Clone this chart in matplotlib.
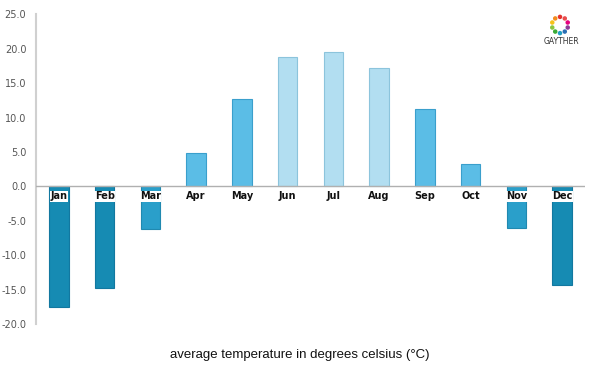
import matplotlib
matplotlib.use("Agg")
import matplotlib.pyplot as plt
import numpy as np

months = ["Jan", "Feb", "Mar", "Apr", "May", "Jun", "Jul", "Aug", "Sep", "Oct", "Nov", "Dec"]
temps = [-17.5, -14.7, -6.2, 4.8, 12.7, 18.8, 19.5, 17.2, 11.2, 3.2, -6.0, -14.3]
colors = ["#168bb3", "#168bb3", "#2a9fca", "#5bbde6", "#5bbde6", "#b2def1",
          "#b2def1", "#b2def1", "#5bbde6", "#5bbde6", "#2a9fca", "#168bb3"]
edges = ["#1278a0", "#1278a0", "#2089b0", "#3a9fcc", "#3a9fcc", "#8cc4dc",
         "#8cc4dc", "#8cc4dc", "#3a9fcc", "#3a9fcc", "#2089b0", "#1278a0"]
yticks = [-20, -15, -10, -5, 0, 5, 10, 15, 20, 25]
xlabel = "average temperature in degrees celsius (°C)"

fig = plt.figure(figsize=(6, 3.75), dpi=100)
ax = fig.add_axes([0.06, 0.136, 0.915, 0.826])
x = np.arange(len(months))
ax.bar(x, temps, width=0.43, color=colors, edgecolor=edges, linewidth=0.8, zorder=2)
ax.set_xlim(-0.5, len(months) - 0.5)
ax.set_ylim(-20, 25)
ax.set_yticks(yticks)
ax.set_yticklabels([f"{v:.1f}" for v in yticks], fontsize=7, color="#555555")
ax.tick_params(axis="y", length=0, pad=7)
ax.set_xticks([])
for s in ["top", "right", "bottom"]:
    ax.spines[s].set_visible(False)
ax.spines["left"].set_color("#d0d0d0")
ax.spines["left"].set_linewidth(1.5)
ax.axhline(0, color="#b0b0b0", linewidth=1.0, zorder=3)

for i, (m, t) in enumerate(zip(months, temps)):
    kw = dict(ha="center", va="center", fontsize=7, fontweight="semibold",
              color="#111111", zorder=4)
    if t < 0:
        ax.text(i, -1.45, m,
                bbox=dict(boxstyle="square,pad=0.06", facecolor="white", edgecolor="none"),
                **kw)
    else:
        ax.text(i, -1.45, m, **kw)

fig.text(0.5, 0.053, xlabel, ha="center", va="center", fontsize=9.5,
         family="Liberation Sans", color="#111111")

# logo
logo_cols = ["#e5322d", "#f28c1e", "#f6c21a", "#8cc63f", "#3aaa35", "#21a0c6",
             "#2a6eb4", "#8e3b97", "#e6007e", "#e94e4e"]
ang = np.linspace(0, 2 * np.pi, len(logo_cols), endpoint=False) + np.pi / 2
lax = fig.add_axes([548 / 600, 1 - 37 / 375, 24 / 600, 24 / 375])
lax.set_xlim(-1.7, 1.7)
lax.set_ylim(-1.7, 1.7)
lax.axis("off")
lax.scatter(1.15 * np.cos(ang), 1.15 * np.sin(ang), s=5, c=logo_cols, marker="o")
fig.text(561 / 600, 1 - 42 / 375, "GAYTHER", ha="center", va="center", fontsize=5.5,
         color="#333333")

fig.savefig("out.png", dpi=100)
